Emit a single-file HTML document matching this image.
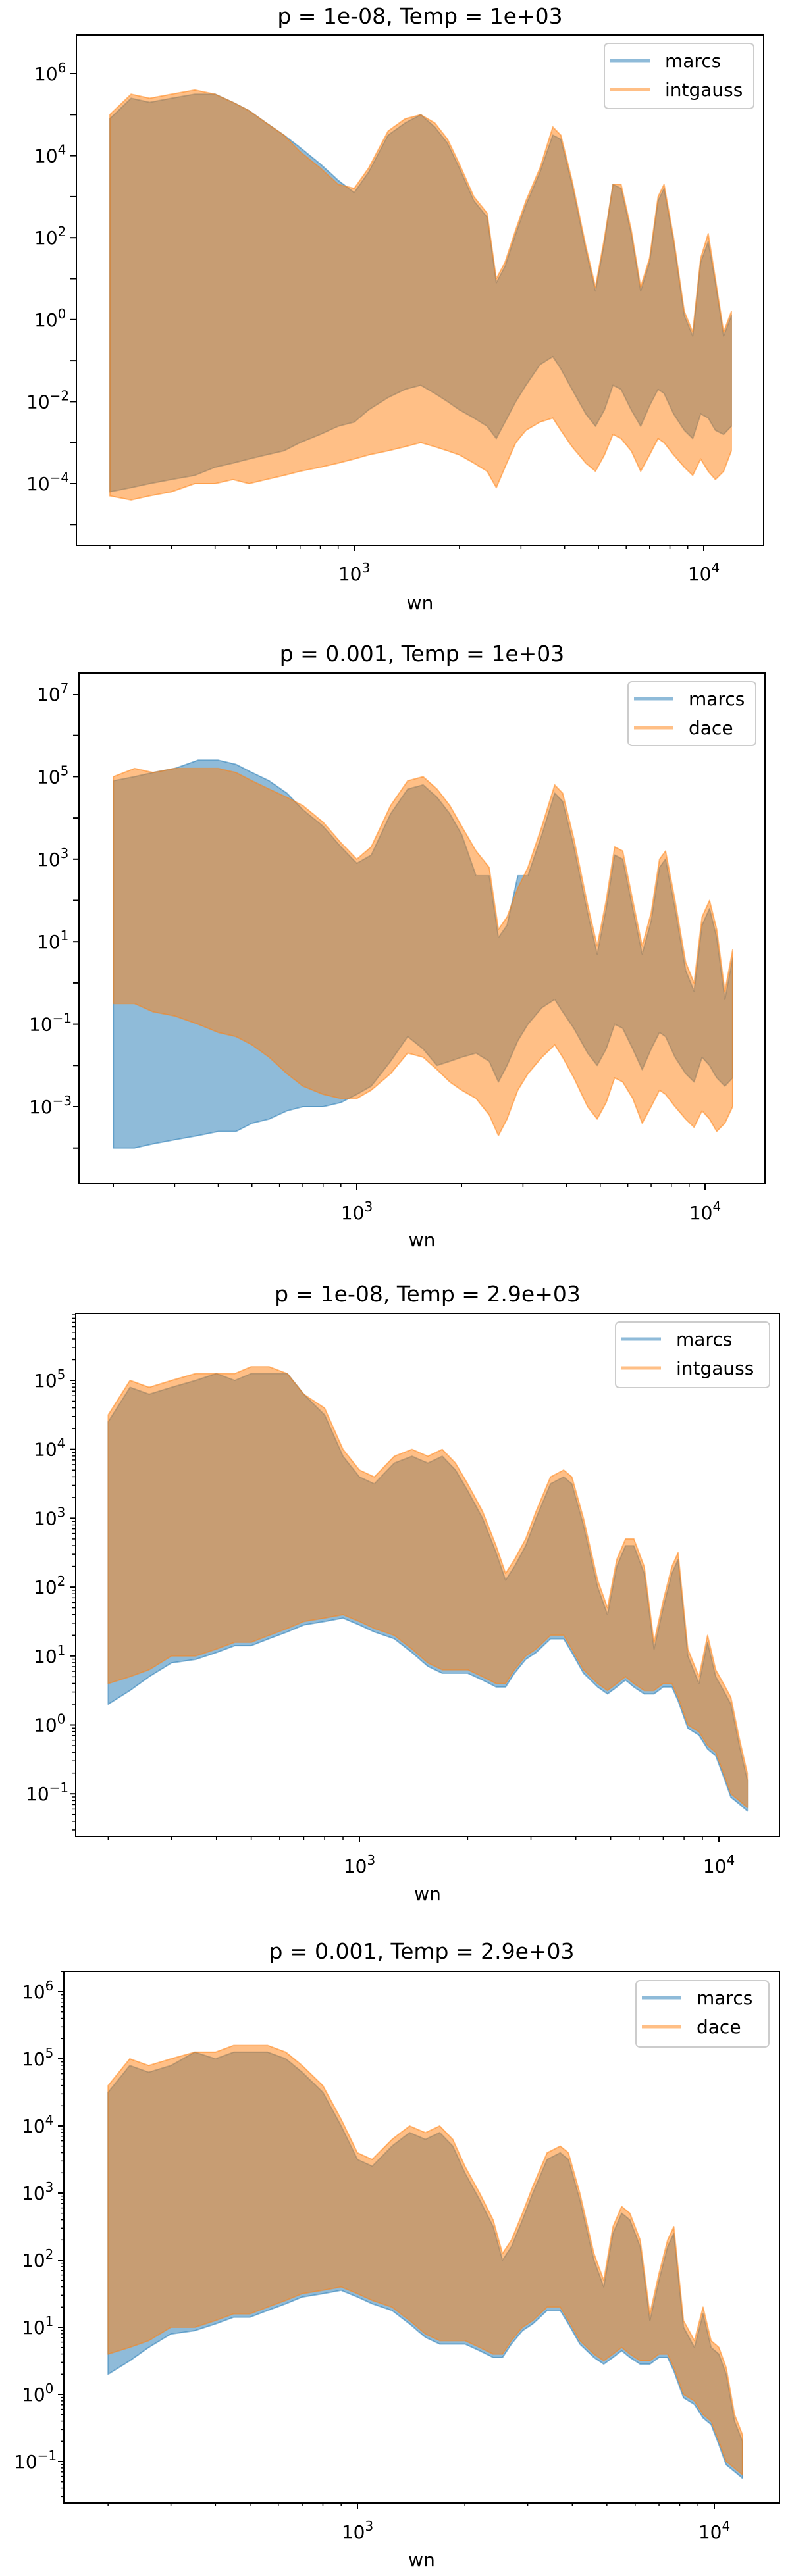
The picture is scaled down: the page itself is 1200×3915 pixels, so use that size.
<!DOCTYPE html>
<html><head><meta charset="utf-8"><style>
html,body{margin:0;padding:0;background:#fff}
svg{display:block}
text{font-family:"DejaVu Sans","Liberation Sans",sans-serif;fill:#000}
</style></head><body>
<svg id="fig" width="1200" height="3915" viewBox="0 0 1200 3915" xmlns="http://www.w3.org/2000/svg"></svg>
<script>
// shared wavenumber grid
const wn = [200,230,260,300,350,400,450,500,560,630,700,800,900,1000,1100,1250,1400,1550,1700,1850,2000,2200,2400,2550,2700,2900,3100,3400,3700,3900,4200,4600,4900,5200,5500,5800,6200,6600,7000,7400,7700,8200,8800,9300,9800,10300,10800,11400,12000];
// panel titles & legend labels
const titles = ["p = 1e-08, Temp = 1e+03","p = 0.001, Temp = 1e+03","p = 1e-08, Temp = 2.9e+03","p = 0.001, Temp = 2.9e+03"];
const seriesB = ["marcs","marcs","marcs","marcs"];
const seriesO = ["intgauss","dace","intgauss","dace"];
// log10 envelopes, panel 1
const p1BlueUpper = [4.9,5.4,5.3,5.4,5.5,5.5,5.3,5.1,4.8,4.5,4.2,3.8,3.4,3.1,3.6,4.5,4.8,5.0,4.7,4.3,3.7,2.9,2.5,0.9,1.3,2.1,2.8,3.6,4.5,4.4,3.3,1.7,0.7,1.9,3.3,3.2,2.1,0.7,1.4,2.9,3.2,1.9,0.1,-0.4,1.4,1.9,0.9,-0.4,0.1];
const p1BlueLower = [-4.2,-4.1,-4.0,-3.9,-3.8,-3.6,-3.5,-3.4,-3.3,-3.2,-3.0,-2.8,-2.6,-2.5,-2.2,-1.9,-1.7,-1.6,-1.8,-2.0,-2.2,-2.4,-2.6,-2.9,-2.5,-2.0,-1.6,-1.1,-0.9,-1.2,-1.7,-2.3,-2.6,-2.2,-1.6,-1.7,-2.2,-2.6,-2.1,-1.7,-1.8,-2.3,-2.7,-2.9,-2.3,-2.4,-2.7,-2.8,-2.6];
const p1OrangeUpper = [5.0,5.5,5.4,5.5,5.6,5.5,5.3,5.1,4.8,4.5,4.1,3.7,3.3,3.2,3.7,4.6,4.9,5.0,4.8,4.4,3.8,3.0,2.6,1.0,1.4,2.2,2.9,3.7,4.7,4.5,3.4,1.8,0.8,2.0,3.3,3.3,2.2,0.8,1.5,3.0,3.3,2.0,0.2,-0.3,1.5,2.1,1.0,-0.3,0.2];
const p1OrangeLower = [-4.3,-4.4,-4.3,-4.2,-4.0,-4.0,-3.9,-4.0,-3.9,-3.8,-3.7,-3.6,-3.5,-3.4,-3.3,-3.2,-3.1,-3.0,-3.1,-3.2,-3.3,-3.5,-3.7,-4.1,-3.6,-3.0,-2.7,-2.5,-2.4,-2.7,-3.1,-3.5,-3.7,-3.3,-2.8,-2.9,-3.2,-3.7,-3.3,-2.9,-3.0,-3.3,-3.6,-3.8,-3.4,-3.7,-3.9,-3.7,-3.2];
// panel 2
const p2BlueUpper = [4.9,5.0,5.1,5.2,5.4,5.4,5.3,5.1,4.9,4.6,4.2,3.8,3.3,2.9,3.1,4.1,4.7,4.8,4.5,4.1,3.6,2.6,2.6,1.1,1.4,2.6,2.6,3.6,4.6,4.4,3.3,1.7,0.7,1.8,3.1,3.0,1.8,0.7,1.5,2.8,3.0,1.8,0.3,-0.2,1.4,1.8,1.1,-0.4,0.6];
const p2BlueLower = [-4.0,-4.0,-3.9,-3.8,-3.7,-3.6,-3.6,-3.4,-3.3,-3.1,-3.0,-3.0,-2.9,-2.7,-2.5,-1.9,-1.3,-1.6,-2.0,-1.9,-1.8,-1.7,-1.9,-2.4,-2.0,-1.4,-1.0,-0.6,-0.4,-0.7,-1.1,-1.7,-2.0,-1.6,-1.0,-1.1,-1.6,-2.1,-1.6,-1.2,-1.3,-1.8,-2.2,-2.4,-1.8,-2.0,-2.3,-2.5,-2.3];
const p2OrangeUpper = [5.0,5.2,5.1,5.2,5.2,5.2,5.1,4.9,4.7,4.5,4.3,3.9,3.4,3.0,3.3,4.3,4.9,5.0,4.7,4.3,3.8,3.2,2.8,1.3,1.6,2.3,2.8,3.8,4.8,4.6,3.5,1.9,0.9,2.0,3.3,3.2,2.0,0.9,1.7,3.0,3.2,2.0,0.5,0.0,1.6,2.0,1.3,-0.2,0.8];
const p2OrangeLower = [-0.5,-0.5,-0.7,-0.8,-1.0,-1.2,-1.3,-1.5,-1.8,-2.2,-2.5,-2.7,-2.8,-2.8,-2.6,-2.2,-1.7,-1.8,-2.1,-2.4,-2.6,-2.8,-3.2,-3.7,-3.3,-2.6,-2.2,-1.8,-1.5,-1.8,-2.3,-3.0,-3.3,-2.9,-2.3,-2.4,-2.8,-3.4,-3.0,-2.6,-2.7,-3.0,-3.3,-3.5,-3.1,-3.3,-3.6,-3.4,-3.0];
// panel 3
const p3BlueUpper = [4.4,4.9,4.8,4.9,5.0,5.1,5.0,5.1,5.1,5.1,4.8,4.5,3.9,3.6,3.5,3.8,3.9,3.8,3.9,3.7,3.4,3.0,2.5,2.1,2.3,2.6,3.0,3.5,3.6,3.5,2.9,2.0,1.6,2.3,2.6,2.6,2.2,1.1,1.7,2.2,2.4,1.0,0.6,1.2,0.7,0.5,0.3,-0.3,-0.8];
const p3BlueLower = [0.3,0.5,0.7,0.9,0.95,1.05,1.15,1.15,1.25,1.35,1.45,1.5,1.55,1.45,1.35,1.25,1.05,0.85,0.75,0.75,0.75,0.65,0.55,0.55,0.75,0.95,1.05,1.25,1.25,1.05,0.75,0.55,0.45,0.55,0.65,0.55,0.45,0.45,0.55,0.55,0.35,-0.05,-0.15,-0.35,-0.45,-0.75,-1.05,-1.15,-1.25];
const p3OrangeUpper = [4.5,5.0,4.9,5.0,5.1,5.1,5.1,5.2,5.2,5.1,4.8,4.6,4.0,3.7,3.6,3.9,4.0,3.9,4.0,3.8,3.5,3.1,2.6,2.2,2.4,2.7,3.1,3.6,3.7,3.6,3.0,2.1,1.7,2.4,2.7,2.7,2.3,1.2,1.8,2.3,2.5,1.1,0.7,1.3,0.8,0.6,0.4,-0.2,-0.7];
const p3OrangeLower = [0.6,0.7,0.8,1.0,1.0,1.1,1.2,1.2,1.3,1.4,1.5,1.55,1.6,1.5,1.4,1.3,1.1,0.9,0.8,0.8,0.8,0.7,0.6,0.6,0.8,1.0,1.1,1.3,1.3,1.1,0.8,0.6,0.5,0.6,0.7,0.6,0.5,0.5,0.6,0.6,0.4,0.0,-0.1,-0.3,-0.4,-0.7,-1.0,-1.1,-1.2];
// panel 4
const p4BlueUpper = [4.5,4.9,4.8,4.9,5.1,5.0,5.1,5.1,5.1,5.0,4.8,4.5,4.0,3.5,3.4,3.7,3.9,3.8,3.9,3.7,3.3,2.9,2.5,2.0,2.2,2.6,3.0,3.5,3.6,3.5,2.9,2.0,1.6,2.4,2.7,2.6,2.2,1.1,1.7,2.2,2.4,1.0,0.7,1.2,0.7,0.6,0.3,-0.4,-0.7];
const p4BlueLower = [0.3,0.5,0.7,0.9,0.95,1.05,1.15,1.15,1.25,1.35,1.45,1.5,1.55,1.45,1.35,1.25,1.05,0.85,0.75,0.75,0.75,0.65,0.55,0.55,0.75,0.95,1.05,1.25,1.25,1.05,0.75,0.55,0.45,0.55,0.65,0.55,0.45,0.45,0.55,0.55,0.35,-0.05,-0.15,-0.35,-0.45,-0.75,-1.05,-1.15,-1.25];
const p4OrangeUpper = [4.6,5.0,4.9,5.0,5.1,5.1,5.2,5.2,5.2,5.1,4.9,4.6,4.1,3.6,3.5,3.8,4.0,3.9,4.0,3.8,3.4,3.0,2.6,2.1,2.3,2.7,3.1,3.6,3.7,3.6,3.0,2.1,1.7,2.5,2.8,2.7,2.3,1.2,1.8,2.3,2.5,1.1,0.8,1.3,0.8,0.7,0.4,-0.3,-0.6];
const p4OrangeLower = [0.6,0.7,0.8,1.0,1.0,1.1,1.2,1.2,1.3,1.4,1.5,1.55,1.6,1.5,1.4,1.3,1.1,0.9,0.8,0.8,0.8,0.7,0.6,0.6,0.8,1.0,1.1,1.3,1.3,1.1,0.8,0.6,0.5,0.6,0.7,0.6,0.5,0.5,0.6,0.6,0.4,0.0,-0.1,-0.3,-0.4,-0.7,-1.0,-1.1,-1.2];
const xTickLabels = ["3","4"];
const yTickExps1 = [6,4,2,0,-2,-4];
const yTickExps2 = [7,5,3,1,-1,-3];
const yTickExps3 = [5,4,3,2,1,0,-1];
const yTickExps4 = [6,5,4,3,2,1,0,-1];

const envelopes = [
  [p1BlueUpper,p1BlueLower,p1OrangeUpper,p1OrangeLower],
  [p2BlueUpper,p2BlueLower,p2OrangeUpper,p2OrangeLower],
  [p3BlueUpper,p3BlueLower,p3OrangeUpper,p3OrangeLower],
  [p4BlueUpper,p4BlueLower,p4OrangeUpper,p4OrangeLower]
];
const yTickSets=[yTickExps1,yTickExps2,yTickExps3,yTickExps4];

const layout = [
 {l:116,r:1160,t:53,b:829,x3:538,xd:531,yr:6,yrp:112,yd:62.3,titleY:36,tickY:882,wnY:926,lg:{x:918,y:66,w:227,h:99},minorY:false},
 {l:120,r:1162,t:1023,b:1799,x3:542,xd:529,yr:7,yrp:1055,yd:62.7,titleY:1005,tickY:1853,wnY:1894,lg:{x:954,y:1036,w:194,h:97},minorY:false},
 {l:115,r:1184,t:1996,b:2791,x3:546,xd:546,yr:5,yrp:2098,yd:104.7,titleY:1978,tickY:2846,wnY:2888,lg:{x:935,y:2009,w:234,h:100},minorY:true},
 {l:97,r:1184,t:2996,b:3804,x3:543,xd:542,yr:6,yrp:3027,yd:102,titleY:2977,tickY:3858,wnY:3900,lg:{x:966,y:3010,w:202,h:101},minorY:true}
];
const NS="http://www.w3.org/2000/svg";
const svg=document.getElementById('fig');
function mk(tag,attrs,parent){const e=document.createElementNS(NS,tag);for(const k in attrs)e.setAttribute(k,attrs[k]);(parent||svg).appendChild(e);return e;}

layout.forEach((L,pi)=>{
  const g=mk('g',{});
  
  
  const xs=w=>L.x3+L.xd*(Math.log10(w)-3);
  const ys=v=>L.yrp-L.yd*(v-L.yr);
  const clipId='clip'+pi;
  const cp=mk('clipPath',{id:clipId},g);
  mk('rect',{x:L.l,y:L.t,width:L.r-L.l,height:L.b-L.t},cp);
  const env=envelopes[pi];
  const cols=['#1f77b4','#ff7f0e'];
  [0,1].forEach(si=>{
    const up=env[si*2], lo=env[si*2+1];
    let pts=[];
    for(let i=0;i<wn.length;i++)pts.push(xs(wn[i]).toFixed(1)+','+ys(up[i]).toFixed(1));
    for(let i=wn.length-1;i>=0;i--)pts.push(xs(wn[i]).toFixed(1)+','+ys(lo[i]).toFixed(1));
    const p=mk('polygon',{points:pts.join(' '),fill:cols[si],'fill-opacity':0.5,stroke:cols[si],'stroke-opacity':0.5,'stroke-width':2,'stroke-linejoin':'round','clip-path':'url(#'+clipId+')'},g);
    
    
  });
  const frame=mk('rect',{x:L.l,y:L.t,width:L.r-L.l,height:L.b-L.t,fill:'none',stroke:'#000','stroke-width':2},g);
  
  
  [2,3].forEach(d=>{for(let m=1;m<10;m++){const w=m*Math.pow(10,d);const x=xs(w);if(x<L.l||x>L.r)continue;
    mk('line',{x1:x,x2:x,y1:L.b,y2:L.b+(m===1?9:5),stroke:'#000','stroke-width':m===1?2:1.5},g);}});
  {const x=xs(10000);mk('line',{x1:x,x2:x,y1:L.b,y2:L.b+9,stroke:'#000','stroke-width':2},g);}
  xTickLabels.forEach(e=>{const x=xs(Math.pow(10,+e));
    const t=mk('text',{x:x,y:L.tickY,'font-size':28,'text-anchor':'middle'},g);
    
    
    t.appendChild(document.createTextNode('10'));
    const s=mk('tspan',{'font-size':20,dy:-12},t);s.textContent=e;});
  const xl=mk('text',{x:(L.l+L.r)/2,y:L.wnY,'font-size':28,'text-anchor':'middle'},g);
  
  
  xl.textContent='wn';
  const vTop=L.yr+(L.yrp-L.t)/L.yd, vBot=L.yr-(L.b-L.yrp)/L.yd;
  for(let d=Math.floor(vBot);d<=Math.ceil(vTop);d++){
    const y=ys(d); if(y>=L.t-0.5&&y<=L.b+0.5) mk('line',{x1:L.l-9,x2:L.l,y1:y,y2:y,stroke:'#000','stroke-width':2},g);
    if(L.minorY){for(let m=2;m<10;m++){const yy=ys(d+Math.log10(m));if(yy>=L.t&&yy<=L.b)mk('line',{x1:L.l-5,x2:L.l,y1:yy,y2:yy,stroke:'#000','stroke-width':1.5},g);}}
  }
  yTickSets[pi].forEach(e=>{const y=ys(e);
    const t=mk('text',{x:L.l-14-(String(e).length>1?62:50),y:y+10,'font-size':28,'text-anchor':'start'},g);
    
    
    t.appendChild(document.createTextNode('10'));
    const s=mk('tspan',{'font-size':20,dy:-12},t);s.textContent=(e<0?'\u2212'+(-e):String(e));
  });
  const tt=mk('text',{x:(L.l+L.r)/2,y:L.titleY,'font-size':33,'text-anchor':'middle'},g);
  
  
  tt.textContent=titles[pi];
  const lg=L.lg;
  const lgG=mk('g',{},g);
  
  
  mk('rect',{x:lg.x,y:lg.y,width:lg.w,height:lg.h,rx:6,fill:'#fff','fill-opacity':0.8,stroke:'#ccc','stroke-width':2},lgG);
  [[seriesB[pi],'#1f77b4'],[seriesO[pi],'#ff7f0e']].forEach((s,i)=>{
    const yy=lg.y+26+i*44;
    const ln=mk('line',{x1:lg.x+9,x2:lg.x+69,y1:yy,y2:yy,stroke:s[1],'stroke-opacity':0.5,'stroke-width':5},lgG);
    
    
    const t=mk('text',{x:lg.x+92,y:yy+10,'font-size':28},lgG);
    
    
    t.textContent=s[0];
  });
});
</script>
</body></html>
